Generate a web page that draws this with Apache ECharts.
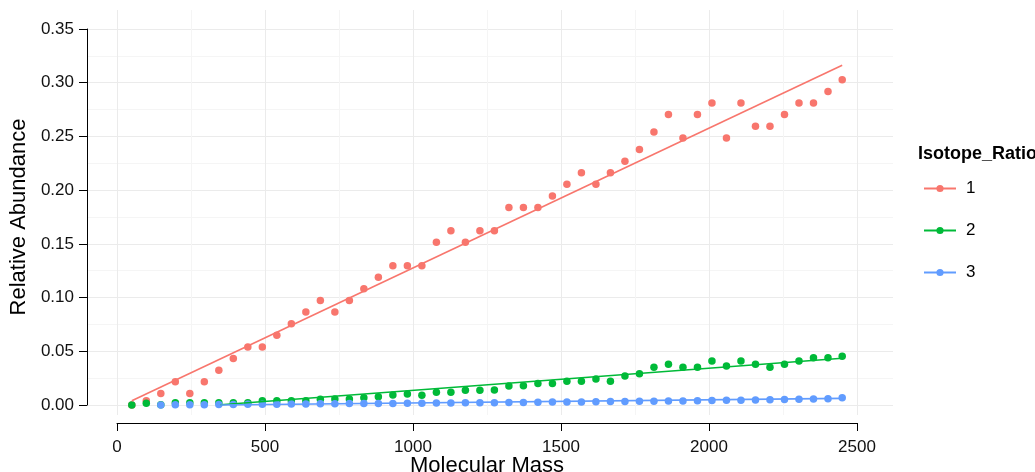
<!DOCTYPE html>
<html>
<head>
<meta charset="utf-8">
<script src="https://cdn.jsdelivr.net/npm/echarts@6/dist/echarts.min.js"></script>
<style>
  html, body { margin: 0; padding: 0; background: #fff; }
  #chart { width: 1035px; height: 472px; }
</style>
</head>
<body>
<div id="chart"></div>
<script>
// Molecular mass of each measurement (50 evenly spaced masses)
const masses = [50, 99, 148, 197, 246, 295, 344, 393, 442, 491,
  540, 589, 638, 687, 736, 785, 834, 883, 932, 981,
  1030, 1079, 1128, 1177, 1226, 1275, 1324, 1373, 1422, 1471,
  1520, 1569, 1618, 1667, 1716, 1765, 1814, 1863, 1912, 1961,
  2010, 2059, 2108, 2157, 2206, 2255, 2304, 2353, 2402, 2450];

// Relative abundance for isotope ratio 1, 2 and 3
const ratio1 = [0.0000, 0.0040, 0.0108, 0.0216, 0.0108, 0.0216, 0.0324, 0.0432, 0.0540, 0.0540,
  0.0649, 0.0757, 0.0865, 0.0973, 0.0865, 0.0973, 0.1081, 0.1189, 0.1297, 0.1297,
  0.1297, 0.1514, 0.1622, 0.1514, 0.1622, 0.1622, 0.1838, 0.1838, 0.1838, 0.1946,
  0.2054, 0.2162, 0.2054, 0.2162, 0.2270, 0.2378, 0.2541, 0.2703, 0.2486, 0.2703,
  0.2811, 0.2486, 0.2811, 0.2595, 0.2595, 0.2703, 0.2811, 0.2811, 0.2919, 0.3027];
const ratio2 = [0.0000, 0.0016, 0.0003, 0.0022, 0.0022, 0.0022, 0.0022, 0.0022, 0.0022, 0.0040,
  0.0040, 0.0040, 0.0040, 0.0053, 0.0055, 0.0055, 0.0068, 0.0077, 0.0093, 0.0102,
  0.0090, 0.0118, 0.0118, 0.0137, 0.0137, 0.0140, 0.0177, 0.0180, 0.0199, 0.0199,
  0.0220, 0.0220, 0.0242, 0.0220, 0.0270, 0.0292, 0.0351, 0.0379, 0.0351, 0.0351,
  0.0410, 0.0363, 0.0410, 0.0379, 0.0351, 0.0379, 0.0410, 0.0440, 0.0440, 0.0453];
const ratio3 = [null, null, 0.0000, 0.0002, 0.0002, 0.0003, 0.0004, 0.0005, 0.0006, 0.0007,
  0.0008, 0.0009, 0.0010, 0.0011, 0.0012, 0.0013, 0.0013, 0.0014, 0.0015, 0.0016,
  0.0017, 0.0018, 0.0019, 0.0020, 0.0021, 0.0022, 0.0023, 0.0024, 0.0025, 0.0027,
  0.0028, 0.0029, 0.0030, 0.0032, 0.0033, 0.0035, 0.0036, 0.0037, 0.0038, 0.0040,
  0.0042, 0.0044, 0.0045, 0.0047, 0.0049, 0.0052, 0.0054, 0.0057, 0.0059, 0.0068];

// Linear fit end points for each ratio (part below zero is dropped)
const fit1 = [[50, 0.0040], [2450, 0.3162]];
const fit2 = [[350, 0.0002], [2450, 0.0435]];
const fit3 = [[350, 0.0000], [2450, 0.0062]];

const groupNames = ['1', '2', '3'];
const colors = ['#F8766D', '#00BA38', '#619CFF'];
const xTicks = [0, 500, 1000, 1500, 2000, 2500];
const yTicks = [0, 0.05, 0.10, 0.15, 0.20, 0.25, 0.30, 0.35];

const FONT = '"Liberation Sans", Arial, Helvetica, sans-serif';

function pairs(values) {
  const out = [];
  values.forEach((v, i) => { if (v !== null) out.push([masses[i], v]); });
  return out;
}

const ratios = [ratio1, ratio2, ratio3];
const fits = [fit1, fit2, fit3];

const hidden = { show: false };

const chart = echarts.init(document.getElementById('chart'), null, { renderer: 'canvas' });

const series = [];
// fitted lines first so the legend uses the line+dot key
fits.forEach((f, i) => {
  series.push({
    name: groupNames[i], type: 'line', xAxisIndex: 3, yAxisIndex: 3,
    data: f, symbol: 'circle', showSymbol: false, clip: false, z: 4,
    color: colors[i], lineStyle: { width: 1.6, color: colors[i] },
    silent: true, animation: false
  });
});
ratios.forEach((r, i) => {
  series.push({
    name: groupNames[i], type: 'scatter', xAxisIndex: 3, yAxisIndex: 3,
    data: pairs(r), symbol: 'circle', symbolSize: 7.5, clip: false, z: 3,
    itemStyle: { color: colors[i], opacity: 1 }, silent: true, animation: false
  });
});

chart.setOption({
  animation: false,
  backgroundColor: '#ffffff',
  textStyle: { fontFamily: FONT },
  grid: [
    // vertical panel lines
    { left: 117, width: 740, top: 10, height: 405 },
    // horizontal panel lines + y axis
    { left: 80, width: 813, top: 29, height: 376 },
    // x axis
    { left: 117, width: 740, top: 300, height: 123 },
    // data area
    { left: 117, width: 740, top: 29, height: 376 }
  ],
  xAxis: [
    { gridIndex: 0, type: 'value', min: xTicks[0], max: xTicks[xTicks.length - 1], interval: 500,
      axisLine: hidden, axisTick: hidden, axisLabel: hidden,
      splitLine: { show: true, lineStyle: { color: '#ebebeb', width: 1 } },
      minorTick: { show: false, splitNumber: 2 },
      minorSplitLine: { show: true, lineStyle: { color: '#f5f5f5', width: 1 } } },
    { gridIndex: 1, type: 'value', min: 0, max: 1, show: false },
    { gridIndex: 2, type: 'value', min: xTicks[0], max: xTicks[xTicks.length - 1], interval: 500,
      axisLine: { show: true, lineStyle: { color: '#000', width: 1 } },
      axisTick: { show: true, inside: false, length: 8, lineStyle: { color: '#000', width: 1 } },
      axisLabel: { show: true, margin: 16, fontSize: 17, color: '#111', fontFamily: FONT,
        formatter: v => String(v) },
      splitLine: hidden },
    { gridIndex: 3, type: 'value', min: 0, max: 2500, show: false }
  ],
  yAxis: [
    { gridIndex: 0, type: 'value', min: 0, max: 1, show: false },
    { gridIndex: 1, type: 'value', min: yTicks[0], max: yTicks[yTicks.length - 1], interval: 0.05,
      axisLine: { show: true, lineStyle: { color: '#000', width: 1 } },
      axisTick: { show: true, inside: false, length: 8, lineStyle: { color: '#000', width: 1 } },
      axisLabel: { show: true, margin: 13, fontSize: 17, color: '#111', fontFamily: FONT,
        formatter: v => v.toFixed(2) },
      splitLine: { show: true, lineStyle: { color: '#ebebeb', width: 1 } },
      minorTick: { show: false, splitNumber: 2 },
      minorSplitLine: { show: true, lineStyle: { color: '#f5f5f5', width: 1 } },
      name: 'Relative Abundance', nameLocation: 'middle', nameGap: 56, nameRotate: 90,
      nameTextStyle: { fontSize: 22, color: '#000', fontFamily: FONT } },
    { gridIndex: 2, type: 'value', min: 0, max: 1, show: false },
    { gridIndex: 3, type: 'value', min: 0, max: 0.35, show: false }
  ],
  legend: {
    data: groupNames,
    orient: 'vertical',
    left: 923, top: 180,
    padding: 0,
    itemWidth: 32, itemHeight: 9,
    itemGap: 25,
    textStyle: { fontSize: 17, color: '#000', fontFamily: FONT, lineHeight: 17, padding: [0, 0, 0, 5] },
    selectedMode: false
  },
  graphic: [
    // legend heading
    { type: 'text', left: 918, top: 145,
      style: { text: 'Isotope_Ratio', fontSize: 18, fontWeight: 'bold', fill: '#000', fontFamily: FONT } },
    // x axis title, centred under the panel
    { type: 'text', x: 487, y: 466,
      style: { text: 'Molecular Mass', fontSize: 22, fill: '#000', fontFamily: FONT,
        align: 'center', verticalAlign: 'middle' } }
  ],
  series: series
});
</script>
</body>
</html>
